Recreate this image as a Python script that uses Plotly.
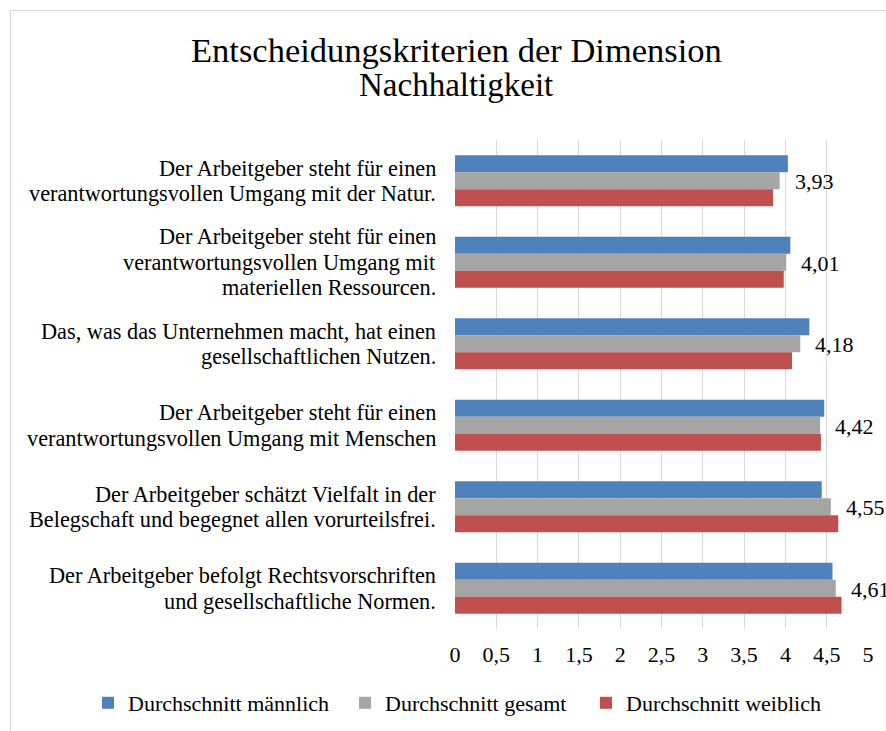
import plotly.graph_objects as go

# ---- data ----
categories = [
    "Der Arbeitgeber steht für einen<br>verantwortungsvollen Umgang mit der Natur.",
    "Der Arbeitgeber steht für einen<br>verantwortungsvollen Umgang mit<br>materiellen Ressourcen.",
    "Das, was das Unternehmen macht, hat einen<br>gesellschaftlichen Nutzen.",
    "Der Arbeitgeber steht für einen<br>verantwortungsvollen Umgang mit Menschen",
    "Der Arbeitgeber schätzt Vielfalt in der<br>Belegschaft und begegnet allen vorurteilsfrei.",
    "Der Arbeitgeber befolgt Rechtsvorschriften<br>und gesellschaftliche Normen.",
]
maennlich = [4.03, 4.06, 4.29, 4.47, 4.44, 4.57]
gesamt = [3.93, 4.01, 4.18, 4.42, 4.55, 4.61]
weiblich = [3.85, 3.98, 4.08, 4.43, 4.64, 4.68]
series_names = ["Durchschnitt männlich", "Durchschnitt gesamt", "Durchschnitt weiblich"]
colors = ["#4F81BD", "#A5A5A5", "#C0504D"]
title_lines = ["Entscheidungskriterien der Dimension", "Nachhaltigkeit"]

FONT = "Liberation Serif"
W, H = 886, 731
# plot area in page pixels: x 455..868, y 140..629
L, R, T, B = 455, W - 868, 140, H - 629
PW, PH = W - L - R, H - T - B
legend_widths = [212, 196, 200]

def px_x(p):  # page pixel -> paper x
    return (p - L) / PW

def px_y(p):  # page pixel -> paper y
    return (H - B - p) / PH

fig = go.Figure()
for name, vals, col, lw in zip(series_names, [maennlich, gesamt, weiblich], colors, legend_widths):
    fig.add_trace(go.Bar(
        x=vals, y=categories, orientation="h", name=name, legendwidth=lw,
        marker=dict(color=col, line=dict(width=0)),
    ))

annotations = []
# category labels (lines centered, block right aligned)
for cat in categories:
    lines = cat.split("<br>")
    n = len(lines)
    for k, ln in enumerate(lines):
        annotations.append(dict(
            x=0, xref="paper", y=cat, yref="y", text=ln, showarrow=False,
            xanchor="right", yanchor="middle", xshift=-17,
            yshift=((n - 1) / 2 - k) * 25.5,
            font=dict(family=FONT, size=22.3, color="#000000"),
        ))
# data labels for gesamt series
for cat, v in zip(categories, gesamt):
    annotations.append(dict(
        x=v, xref="x", y=cat, yref="y", text=f"{v:.2f}".replace(".", ","),
        showarrow=False, xanchor="left", yanchor="middle", xshift=13, yshift=-1,
        font=dict(family=FONT, size=22, color="#000000"),
    ))
# title
for ln, cy, fs in zip(title_lines, [50, 85], [34.5, 33]):
    annotations.append(dict(
        x=px_x(456), xref="paper", y=px_y(cy), yref="paper", text=ln,
        showarrow=False, xanchor="center", yanchor="middle",
        font=dict(family=FONT, size=fs, color="#000000"),
    ))

fig.update_layout(
    width=W, height=H,
    margin=dict(l=L, r=R, t=T, b=B, pad=0, autoexpand=False),
    paper_bgcolor="white", plot_bgcolor="white",
    separators=", ",
    barmode="group", bargap=0.375, bargroupgap=0,
    font=dict(family=FONT, size=22, color="#000000"),
    showlegend=True,
    legend=dict(
        orientation="h", x=px_x(88), xanchor="left", y=px_y(703), yanchor="middle",
        font=dict(family=FONT, size=22, color="#000000"),
        itemwidth=30, traceorder="normal", bgcolor="rgba(0,0,0,0)",
    ),
    xaxis=dict(
        range=[0, 5], dtick=0.5, tick0=0, showgrid=True, gridcolor="#D9D9D9", gridwidth=1,
        zeroline=False, showline=False, ticks="", ticklabelstandoff=10,
        tickfont=dict(family=FONT, size=22, color="#000000"), fixedrange=True,
    ),
    yaxis=dict(
        autorange="reversed", showticklabels=False, showgrid=False, zeroline=False,
        showline=False, ticks="", fixedrange=True,
    ),
    annotations=annotations,
    shapes=[dict(
        type="rect", xref="paper", yref="paper",
        x0=px_x(10.5), x1=px_x(900), y0=px_y(745), y1=px_y(10.5),
        line=dict(color="#D9D9D9", width=1), fillcolor="rgba(0,0,0,0)", layer="below",
    )],
)

fig.write_html(
    "out.html", include_plotlyjs=True, config={"displayModeBar": False},
    post_script="document.body.style.margin='0';document.body.style.overflow='hidden';",
)
